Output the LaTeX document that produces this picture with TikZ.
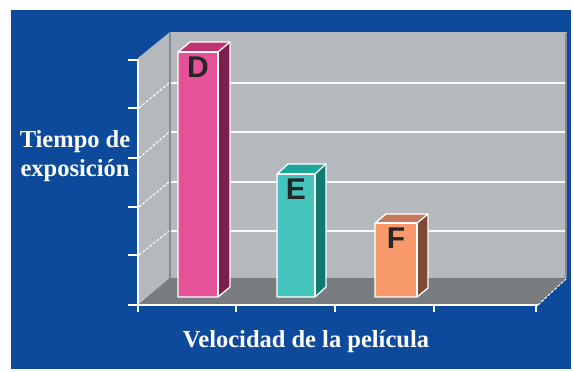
\documentclass[tikz,border=0pt]{standalone}
\usepackage{fontspec}
\setmainfont{Liberation Serif}
\newfontfamily\barfont{Liberation Sans}
\begin{document}
\begin{tikzpicture}[x=1pt,y=-1pt]
\definecolor{bgblue}{HTML}{0D4A9C}
\definecolor{wall}{HTML}{B5B8BC}
\definecolor{walledge}{HTML}{878A8E}
\definecolor{floorc}{HTML}{7A7D80}
\definecolor{dfront}{HTML}{E5529A}
\definecolor{dside}{HTML}{7A1F50}
\definecolor{dtop}{HTML}{C2346F}
\definecolor{efront}{HTML}{45C4BE}
\definecolor{eside}{HTML}{0E7A70}
\definecolor{etop}{HTML}{1BA89A}
\definecolor{ffront}{HTML}{F7996A}
\definecolor{fside}{HTML}{7F4A35}
\definecolor{ftop}{HTML}{C47A5A}
\tikzset{
  grid line/.style={draw=white!95!gray, line width=1.6pt},
  wall dash/.style={draw=white, line width=1pt, dash pattern=on 3pt off 1.5pt},
  axis line/.style={draw=white, line width=1.4pt},
  bar edge/.style={draw=white, line width=1.3pt, line join=round},
  bar label/.style={font=\barfont\bfseries\fontsize{30}{30}\selectfont, text=black!85, anchor=north, inner sep=0pt},
  axis label/.style={font=\bfseries\fontsize{24.5}{29}\selectfont, text=white, align=center, inner sep=0pt}
}
\useasboundingbox (0,0) rectangle (573,372);
\fill[white] (0,0) rectangle (573,372);
\fill[bgblue] (11,10) rectangle (571,369);
% walls
\fill[wall] (170,32) rectangle (567,278);
\fill[wall] (138,58) -- (170,32) -- (170,278) -- (138,305) -- cycle;
\fill[floorc] (138,305) -- (170,278) -- (567,278) -- (538,305) -- cycle;
\draw[walledge, line width=1.2pt] (170,32) -- (170,278);
\draw[walledge, line width=1.5pt] (566,33) -- (566,278);
% grid lines
\foreach \gy/\ty in {83/108,132/158,182/207,231/255} {
  \draw[grid line] (171,\gy) -- (565,\gy);
  \draw[wall dash] (139,\ty) -- (169,\gy);
}
% bars: D
\fill[dside] (218,52) -- (230,42) -- (230,287) -- (218,297) -- cycle;
\fill[dtop] (178,52) -- (190,42) -- (230,42) -- (218,52) -- cycle;
\fill[dfront] (178,52) rectangle (218,297);
\draw[bar edge] (178,297) -- (178,52) -- (190,42) -- (230,42) -- (230,287) -- (218,297) -- cycle;
\draw[bar edge] (178,52) -- (218,52) -- (218,297);
\draw[bar edge] (218,52) -- (230,42);
\node[bar label] (labD) at (198,57) {D};
% bars: E
\fill[eside] (315,174) -- (326,164) -- (326,287) -- (315,297) -- cycle;
\fill[etop] (277,174) -- (288,164) -- (326,164) -- (315,174) -- cycle;
\fill[efront] (277,174) rectangle (315,297);
\draw[bar edge] (277,297) -- (277,174) -- (288,164) -- (326,164) -- (326,287) -- (315,297) -- cycle;
\draw[bar edge] (277,174) -- (315,174) -- (315,297);
\draw[bar edge] (315,174) -- (326,164);
\node[bar label] (labE) at (296,179) {E};
% bars: F
\fill[fside] (417,223) -- (428,214) -- (428,288) -- (417,297) -- cycle;
\fill[ftop] (375,223) -- (386,214) -- (428,214) -- (417,223) -- cycle;
\fill[ffront] (375,223) rectangle (417,297);
\draw[bar edge] (375,297) -- (375,223) -- (386,214) -- (428,214) -- (428,288) -- (417,297) -- cycle;
\draw[bar edge] (375,223) -- (417,223) -- (417,297);
\draw[bar edge] (417,223) -- (428,214);
\node[bar label] (labF) at (396,228) {F};
% axes
\draw[axis line] (138,59) -- (138,305) -- (538,305);
\foreach \ty in {60,108,158,207,255,305}
  \draw[axis line] (128,\ty) -- (138,\ty);
\foreach \tx in {138,236,335,434,536}
  \draw[axis line] (\tx,305) -- (\tx,312);
\draw[wall dash] (538,305) -- (566,279);
% labels
\node[axis label] (ylab) at (75,156) {Tiempo de\\exposición};
\node[axis label] (xlab) at (306,342) {Velocidad de la película};
\end{tikzpicture}
\end{document}
